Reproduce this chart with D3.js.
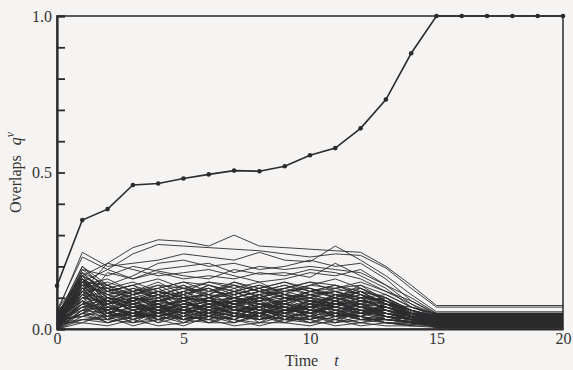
<!DOCTYPE html>
<html><head><meta charset="utf-8">
<script src="https://cdn.jsdelivr.net/npm/d3@7/dist/d3.min.js"></script>
<style>body{margin:0;background:#f5f4f2;}svg{display:block;}</style>
</head><body>
<script>
// Main overlap q^nu (t = 0..20)
const mainTimes = [0,1,2,3,4,5,6,7,8,9,10,11,12,13,14,15,16,17,18,19,20];
const mainValues = [0.138,0.348,0.383,0.46,0.465,0.481,0.494,0.506,0.504,0.52,0.555,0.578,0.641,0.733,0.881,1.0,1.0,1.0,1.0,1.0,1.0];

// Other overlaps: sampled at t = 0..15 and t = 20
const lowTimes = [0,1,2,3,4,5,6,7,8,9,10,11,12,13,14,15,20];
const upperSeries = [
 [0.03,0.17,0.21,0.26,0.285,0.28,0.265,0.30,0.265,0.26,0.255,0.25,0.245,0.20,0.14,0.075,0.075],
 [0.02,0.15,0.19,0.24,0.27,0.265,0.26,0.255,0.25,0.24,0.23,0.24,0.235,0.195,0.13,0.07,0.07],
 [0.05,0.245,0.20,0.21,0.22,0.24,0.23,0.22,0.245,0.22,0.215,0.265,0.22,0.17,0.11,0.055,0.055],
 [0.04,0.20,0.14,0.17,0.21,0.22,0.20,0.21,0.19,0.20,0.22,0.20,0.21,0.16,0.09,0.05,0.05],
 [0.06,0.23,0.19,0.16,0.19,0.20,0.21,0.18,0.20,0.19,0.20,0.19,0.18,0.14,0.08,0.045,0.045],
 [0.01,0.12,0.21,0.19,0.17,0.18,0.19,0.17,0.15,0.16,0.18,0.17,0.19,0.14,0.10,0.05,0.05],
 [0.03,0.19,0.17,0.20,0.185,0.17,0.16,0.19,0.175,0.18,0.165,0.21,0.17,0.13,0.07,0.04,0.04],
 [0.02,0.08,0.18,0.16,0.18,0.16,0.17,0.16,0.18,0.17,0.19,0.18,0.16,0.12,0.09,0.045,0.045]
];
const middleSeries = [
 [0.02,0.17,0.12,0.14,0.11,0.13,0.12,0.15,0.13,0.10,0.12,0.14,0.11,0.09,0.06,0.04,0.04],
 [0.05,0.16,0.10,0.12,0.15,0.11,0.13,0.10,0.12,0.14,0.11,0.12,0.13,0.10,0.05,0.035,0.035],
 [0.01,0.15,0.14,0.09,0.12,0.14,0.10,0.12,0.14,0.12,0.13,0.10,0.12,0.08,0.06,0.03,0.03],
 [0.03,0.18,0.11,0.13,0.10,0.12,0.15,0.13,0.10,0.13,0.15,0.12,0.10,0.11,0.07,0.045,0.045],
 [0.00,0.14,0.13,0.11,0.14,0.10,0.11,0.14,0.12,0.11,0.10,0.13,0.14,0.09,0.05,0.025,0.025],
 [0.04,0.13,0.15,0.12,0.13,0.15,0.12,0.11,0.13,0.15,0.12,0.11,0.12,0.10,0.06,0.04,0.04],
 [0.06,0.17,0.13,0.10,0.12,0.11,0.14,0.12,0.11,0.12,0.14,0.13,0.11,0.07,0.05,0.03,0.03],
 [0.02,0.12,0.09,0.13,0.11,0.13,0.10,0.13,0.15,0.11,0.10,0.12,0.10,0.09,0.04,0.035,0.035],
 [0.01,0.16,0.12,0.10,0.09,0.12,0.13,0.09,0.11,0.13,0.11,0.09,0.12,0.08,0.05,0.02,0.02],
 [0.03,0.11,0.14,0.11,0.13,0.09,0.12,0.14,0.10,0.12,0.13,0.11,0.09,0.10,0.06,0.04,0.04],
 [0.05,0.15,0.08,0.12,0.10,0.14,0.11,0.10,0.12,0.09,0.12,0.14,0.11,0.08,0.07,0.05,0.05],
 [0.02,0.14,0.11,0.09,0.12,0.10,0.09,0.12,0.09,0.11,0.09,0.10,0.13,0.09,0.05,0.03,0.03],
 [0.00,0.10,0.12,0.14,0.09,0.11,0.13,0.10,0.12,0.10,0.11,0.12,0.09,0.07,0.04,0.025,0.025],
 [0.04,0.18,0.10,0.08,0.11,0.09,0.10,0.11,0.13,0.10,0.08,0.11,0.10,0.09,0.06,0.035,0.035],
 [0.03,0.13,0.12,0.10,0.08,0.12,0.09,0.08,0.10,0.12,0.10,0.08,0.11,0.08,0.05,0.03,0.03],
 [0.01,0.16,0.09,0.11,0.12,0.08,0.10,0.12,0.08,0.09,0.12,0.10,0.08,0.10,0.04,0.02,0.02],
 [0.06,0.12,0.13,0.08,0.10,0.12,0.08,0.09,0.11,0.08,0.10,0.09,0.12,0.07,0.05,0.04,0.04],
 [0.02,0.15,0.11,0.12,0.07,0.10,0.11,0.08,0.09,0.11,0.07,0.11,0.09,0.08,0.06,0.035,0.035],
 [0.04,0.11,0.10,0.09,0.11,0.07,0.09,0.10,0.07,0.10,0.09,0.07,0.10,0.06,0.04,0.02,0.02],
 [0.00,0.17,0.08,0.10,0.09,0.11,0.07,0.09,0.10,0.08,0.11,0.09,0.07,0.09,0.05,0.03,0.03],
 [0.02,0.19,0.13,0.15,0.12,0.10,0.14,0.11,0.13,0.15,0.13,0.10,0.14,0.11,0.07,0.0475,0.0475],
 [0.05,0.14,0.16,0.12,0.14,0.13,0.11,0.15,0.12,0.13,0.15,0.14,0.12,0.10,0.06,0.0425,0.0425],
 [0.01,0.18,0.14,0.11,0.13,0.15,0.14,0.12,0.14,0.11,0.14,0.16,0.13,0.09,0.055,0.0375,0.0375],
 [0.03,0.20,0.12,0.14,0.16,0.13,0.15,0.14,0.12,0.14,0.12,0.13,0.15,0.12,0.08,0.0325,0.0325]
];
const lowerSeries = [
 [0.01,0.09,0.06,0.08,0.05,0.07,0.09,0.06,0.08,0.05,0.07,0.08,0.06,0.05,0.03,0.02,0.02],
 [0.03,0.12,0.07,0.05,0.08,0.06,0.05,0.08,0.06,0.09,0.06,0.05,0.07,0.06,0.04,0.03,0.03],
 [0.00,0.08,0.09,0.06,0.07,0.09,0.06,0.07,0.09,0.06,0.08,0.06,0.08,0.05,0.03,0.015,0.015],
 [0.02,0.13,0.05,0.07,0.06,0.05,0.08,0.05,0.07,0.07,0.05,0.09,0.05,0.06,0.04,0.025,0.025],
 [0.04,0.10,0.08,0.04,0.09,0.07,0.06,0.09,0.05,0.06,0.09,0.07,0.06,0.04,0.03,0.02,0.02],
 [0.01,0.07,0.06,0.09,0.05,0.08,0.07,0.05,0.08,0.07,0.06,0.05,0.08,0.05,0.035,0.01,0.01],
 [0.02,0.11,0.04,0.06,0.07,0.04,0.09,0.07,0.04,0.08,0.07,0.06,0.04,0.06,0.03,0.025,0.025],
 [0.00,0.06,0.07,0.05,0.04,0.06,0.05,0.06,0.07,0.04,0.05,0.07,0.06,0.04,0.02,0.01,0.01],
 [0.03,0.09,0.05,0.07,0.08,0.05,0.04,0.07,0.06,0.05,0.08,0.04,0.07,0.05,0.04,0.03,0.03],
 [0.01,0.05,0.08,0.04,0.06,0.08,0.06,0.04,0.05,0.07,0.04,0.06,0.05,0.03,0.02,0.015,0.015],
 [0.02,0.08,0.04,0.06,0.03,0.05,0.07,0.05,0.03,0.06,0.05,0.04,0.06,0.04,0.03,0.02,0.02],
 [0.00,0.04,0.06,0.03,0.05,0.04,0.03,0.06,0.05,0.03,0.06,0.05,0.03,0.04,0.02,0.005,0.005],
 [0.01,0.07,0.03,0.05,0.04,0.06,0.05,0.03,0.06,0.04,0.03,0.05,0.04,0.03,0.025,0.015,0.015],
 [0.03,0.06,0.05,0.03,0.06,0.03,0.04,0.05,0.03,0.05,0.04,0.03,0.05,0.04,0.03,0.025,0.025],
 [0.00,0.03,0.04,0.05,0.02,0.04,0.03,0.04,0.04,0.02,0.04,0.03,0.02,0.03,0.02,0.01,0.01],
 [0.02,0.05,0.02,0.04,0.04,0.02,0.05,0.03,0.02,0.04,0.03,0.05,0.03,0.02,0.02,0.02,0.02],
 [0.01,0.03,0.03,0.02,0.03,0.05,0.02,0.02,0.04,0.03,0.02,0.02,0.04,0.02,0.01,0.005,0.005],
 [0.00,0.02,0.01,0.03,0.01,0.02,0.03,0.01,0.02,0.02,0.01,0.03,0.01,0.02,0.01,0.01,0.01],
 [0.04,0.14,0.06,0.10,0.07,0.09,0.06,0.10,0.08,0.07,0.09,0.08,0.09,0.07,0.05,0.04,0.04],
 [0.01,0.12,0.07,0.09,0.10,0.06,0.08,0.07,0.10,0.08,0.06,0.10,0.07,0.06,0.04,0.03,0.03],
 [0.02,0.10,0.09,0.07,0.06,0.10,0.09,0.06,0.07,0.09,0.10,0.06,0.08,0.07,0.04,0.035,0.035],
 [0.00,0.15,0.06,0.08,0.09,0.07,0.10,0.08,0.06,0.10,0.08,0.07,0.09,0.05,0.03,0.02,0.02],
 [0.03,0.07,0.10,0.06,0.08,0.09,0.05,0.09,0.08,0.06,0.07,0.09,0.06,0.07,0.05,0.04,0.04],
 [0.01,0.11,0.08,0.09,0.05,0.08,0.07,0.10,0.09,0.05,0.09,0.08,0.10,0.06,0.04,0.025,0.025],
 [0.05,0.16,0.07,0.05,0.07,0.06,0.08,0.04,0.07,0.08,0.06,0.07,0.05,0.08,0.05,0.045,0.045],
 [0.02,0.13,0.09,0.06,0.04,0.07,0.04,0.08,0.05,0.06,0.05,0.08,0.07,0.04,0.03,0.015,0.015],
 [0.00,0.09,0.03,0.08,0.06,0.03,0.06,0.03,0.06,0.05,0.07,0.04,0.05,0.05,0.03,0.005,0.005],
 [0.03,0.04,0.07,0.04,0.07,0.05,0.02,0.05,0.04,0.06,0.03,0.06,0.03,0.03,0.02,0.02,0.02],
 [0.01,0.06,0.02,0.05,0.03,0.04,0.06,0.04,0.03,0.05,0.02,0.04,0.04,0.02,0.015,0.01,0.01],
 [0.02,0.02,0.05,0.02,0.04,0.03,0.04,0.02,0.05,0.03,0.04,0.02,0.03,0.03,0.02,0.015,0.015],
 [0.01,0.15,0.10,0.06,0.09,0.11,0.05,0.08,0.11,0.07,0.05,0.09,0.11,0.06,0.045,0.0075,0.0075],
 [0.04,0.17,0.08,0.11,0.06,0.08,0.10,0.06,0.05,0.09,0.11,0.07,0.05,0.08,0.04,0.0125,0.0125],
 [0.00,0.11,0.05,0.09,0.11,0.05,0.07,0.11,0.06,0.04,0.08,0.10,0.08,0.05,0.035,0.0175,0.0175],
 [0.02,0.08,0.11,0.07,0.05,0.10,0.08,0.05,0.09,0.10,0.06,0.05,0.09,0.07,0.05,0.0225,0.0225],
 [0.03,0.14,0.07,0.04,0.10,0.06,0.04,0.09,0.10,0.07,0.04,0.08,0.06,0.06,0.03,0.0275,0.0275],
 [0.01,0.10,0.04,0.10,0.08,0.03,0.07,0.05,0.04,0.10,0.09,0.05,0.04,0.07,0.045,0.0325,0.0325],
 [0.05,0.13,0.06,0.03,0.05,0.09,0.11,0.04,0.07,0.03,0.06,0.11,0.07,0.05,0.04,0.0375,0.0375],
 [0.02,0.16,0.05,0.09,0.04,0.06,0.03,0.07,0.11,0.06,0.09,0.03,0.06,0.04,0.035,0.0425,0.0425],
 [0.00,0.06,0.09,0.03,0.08,0.04,0.08,0.10,0.03,0.08,0.05,0.07,0.10,0.06,0.05,0.0475,0.0475],
 [0.03,0.12,0.03,0.07,0.09,0.10,0.04,0.03,0.08,0.04,0.10,0.06,0.04,0.08,0.04,0.0025,0.0025],
 [0.01,0.05,0.10,0.08,0.03,0.07,0.09,0.08,0.04,0.09,0.03,0.08,0.08,0.03,0.025,0.0075,0.0075],
 [0.04,0.09,0.04,0.05,0.07,0.03,0.05,0.09,0.07,0.03,0.07,0.10,0.03,0.05,0.03,0.0125,0.0125],
 [0.02,0.07,0.08,0.10,0.04,0.09,0.06,0.04,0.10,0.05,0.08,0.04,0.09,0.04,0.02,0.0175,0.0175],
 [0.00,0.13,0.05,0.04,0.08,0.05,0.10,0.06,0.05,0.07,0.04,0.09,0.05,0.07,0.04,0.0225,0.0225],
 [0.03,0.04,0.03,0.06,0.02,0.07,0.04,0.07,0.02,0.06,0.05,0.02,0.06,0.03,0.025,0.0275,0.0275],
 [0.01,0.08,0.06,0.02,0.06,0.02,0.06,0.02,0.05,0.02,0.06,0.04,0.02,0.04,0.03,0.0325,0.0325],
 [0.02,0.03,0.02,0.04,0.05,0.03,0.02,0.04,0.03,0.04,0.02,0.05,0.04,0.02,0.015,0.0375,0.0375],
 [0.00,0.05,0.04,0.01,0.03,0.01,0.04,0.03,0.01,0.03,0.03,0.01,0.02,0.01,0.01,0.0425,0.0425]
];

const yTicks = [0,0.1,0.2,0.3,0.4,0.5,0.6,0.7,0.8,0.9,1.0];
const yLabels = {0:"0.0",0.5:"0.5",1:"1.0"};
const xTicks = [0,5,10,15,20];

const W = 573, H = 370;
const x = d3.scaleLinear().domain([0,20]).range([57,563]);
const y = d3.scaleLinear().domain([0,1]).range([329,16]);
const ink = "#2b2a2c";
const font = "'Liberation Serif','Times New Roman',serif";

const svg = d3.select("body").append("svg").attr("width",W).attr("height",H);
svg.append("rect").attr("width",W).attr("height",H).attr("fill","#f5f4f2");

const line = d3.line().x(d=>x(d[0])).y(d=>y(d[1]));
const allLow = upperSeries.concat(middleSeries, lowerSeries);
svg.append("g").selectAll("path").data(allLow).join("path")
  .attr("d", s => line(s.map((v,i)=>[lowTimes[i], v])))
  .attr("fill","none").attr("stroke",ink).attr("stroke-width",0.9);

// frame
svg.append("rect").attr("x",x(0)).attr("y",y(1)).attr("width",x(20)-x(0)).attr("height",y(0)-y(1))
  .attr("fill","none").attr("stroke",ink).attr("stroke-width",1.5);

const yAxis = d3.axisLeft(y).tickValues(yTicks).tickSize(-8).tickPadding(5)
  .tickFormat(d => yLabels[d] !== undefined ? yLabels[d] : "");
const gy = svg.append("g").attr("transform",`translate(${x(0)},0)`).call(yAxis);
gy.select(".domain").attr("stroke",ink).attr("stroke-width",2.2);
gy.selectAll(".tick line").attr("stroke",ink).attr("stroke-width",1.8);
gy.selectAll("text").attr("font-family",font).attr("font-size",16).attr("fill","#333");

const xAxis = d3.axisBottom(x).tickValues(xTicks).tickSize(0).tickPadding(4).tickFormat(d3.format("d"));
const gx = svg.append("g").attr("transform",`translate(0,${y(0)})`).call(xAxis);
gx.select(".domain").attr("stroke",ink).attr("stroke-width",2.2);
gx.selectAll("text").attr("font-family",font).attr("font-size",16).attr("fill","#333");

// main line
const mainPts = mainValues.map((v,i)=>[mainTimes[i], v]);
svg.append("path").attr("d", line(mainPts)).attr("fill","none").attr("stroke",ink).attr("stroke-width",1.6);
svg.append("g").selectAll("circle").data(mainPts).join("circle")
  .attr("cx",d=>x(d[0])).attr("cy",d=>y(d[1])).attr("r",2.3).attr("fill",ink);

// axis titles
const xt = svg.append("text").attr("x",285).attr("y",366).attr("font-family",font).attr("font-size",16).attr("fill","#333");
xt.append("tspan").text("Time");
xt.append("tspan").attr("dx",16).attr("font-style","italic").text("t");

const yt = svg.append("text").attr("transform","translate(21,213) rotate(-90)")
  .attr("font-family",font).attr("font-size",16).attr("fill","#333");
yt.append("tspan").text("Overlaps");
yt.append("tspan").attr("dx",10).attr("font-style","italic").text("q");
yt.append("tspan").attr("dy",-7).attr("font-size",12).attr("font-style","italic").text("ν");
</script>
</body></html>
